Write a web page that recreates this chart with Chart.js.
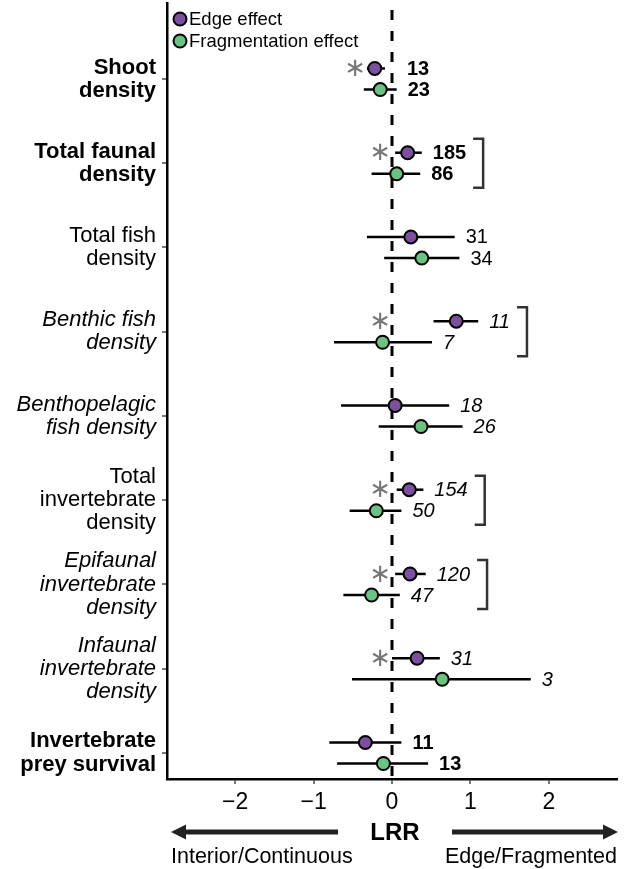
<!DOCTYPE html>
<html><head><meta charset="utf-8">
<script src="https://cdn.jsdelivr.net/npm/chart.js@4.4.0/dist/chart.umd.min.js"></script>
<style>html,body{margin:0;padding:0;background:#fff;} canvas{display:block;}</style>
</head><body>
<canvas id="c" width="628" height="869"></canvas>
<script>
// ---- data (top row first) ----
const categories = [
  ['Shoot', 'density'],
  ['Total faunal', 'density'],
  ['Total fish', 'density'],
  ['Benthic fish', 'density'],
  ['Benthopelagic', 'fish density'],
  ['Total', 'invertebrate', 'density'],
  ['Epifaunal', 'invertebrate', 'density'],
  ['Infaunal', 'invertebrate', 'density'],
  ['Invertebrate', 'prey survival']
];
const labelStyles = ['bold', 'bold', 'normal', 'italic', 'italic', 'normal', 'italic', 'italic', 'bold'];
const countStyles = ['bold', 'bold', 'normal', 'italic', 'italic', 'italic', 'italic', 'italic', 'bold'];

const edgeMean = [-0.22, 0.20, 0.24, 0.82, 0.04, 0.22, 0.23, 0.32, -0.34];
const edgeLow  = [-0.32, 0.04, -0.32, 0.53, -0.65, 0.06, 0.04, 0.00, -0.80];
const edgeHigh = [-0.09, 0.38, 0.80, 1.10, 0.73, 0.40, 0.43, 0.61, 0.12];
const edgeN    = [13, 185, 31, 11, 18, 154, 120, 31, 11];
const edgeSignificant = [true, true, false, true, false, true, true, true, false];

const fragMean = [-0.15, 0.06, 0.38, -0.12, 0.37, -0.20, -0.26, 0.64, -0.11];
const fragLow  = [-0.36, -0.26, -0.10, -0.74, -0.17, -0.54, -0.62, -0.51, -0.70];
const fragHigh = [0.06, 0.36, 0.86, 0.51, 0.90, 0.12, 0.10, 1.77, 0.46];
const fragN    = [23, 86, 34, 7, 26, 50, 47, 3, 13];

const groupDifferent = [false, true, false, true, false, true, true, false, false];

const xTicks = [-2, -1, 0, 1, 2];
const xTickLabels = ['\u22122', '\u22121', '0', '1', '2'];
const seriesNames = ['Edge effect', 'Fragmentation effect'];
const seriesColors = ['#7d4f9f', '#6cc283'];

// ---- helpers ----
const FONT = "'Liberation Sans', Arial, Helvetica, sans-serif";
const nRows = categories.length;
const yOf = i => nRows - i;
const OFF = 0.125;
const series = [
  { mean: edgeMean, low: edgeLow, high: edgeHigh, n: edgeN, off: OFF },
  { mean: fragMean, low: fragLow, high: fragHigh, n: fragN, off: -OFF }
];
function fontStr(style, size) {
  const it = style === 'italic' ? 'italic ' : '';
  const b = style === 'bold' ? 'bold ' : '';
  return it + b + size + 'px ' + FONT;
}

const forestPlugin = {
  id: 'forest',
  beforeDatasetsDraw(chart) {
    const { ctx, chartArea: a, scales: { x, y } } = chart;
    ctx.save();
    const x0 = x.getPixelForValue(0);
    ctx.strokeStyle = '#000';
    ctx.lineWidth = 3;
    ctx.setLineDash([10, 11]);
    ctx.beginPath(); ctx.moveTo(x0, a.top + 7); ctx.lineTo(x0, a.bottom); ctx.stroke();
    ctx.setLineDash([]);
    ctx.lineWidth = 2.5;
    series.forEach(s => s.low.forEach((lo, i) => {
      const py = y.getPixelForValue(yOf(i) + s.off);
      ctx.beginPath();
      ctx.moveTo(x.getPixelForValue(lo), py);
      ctx.lineTo(x.getPixelForValue(s.high[i]), py);
      ctx.stroke();
    }));
    ctx.restore();
  },
  afterDatasetsDraw(chart) {
    const { ctx, chartArea: a, scales: { x, y } } = chart;
    ctx.save();
    ctx.textBaseline = 'middle';
    // counts
    const ends = [];
    series.forEach((s, si) => s.n.forEach((n, i) => {
      const py = y.getPixelForValue(yOf(i) + s.off);
      const px = x.getPixelForValue(Math.max(s.high[i], 0.05) + 0.14);
      ctx.font = fontStr(countStyles[i], 20);
      ctx.fillStyle = '#000';
      ctx.textAlign = 'left';
      ctx.fillText(String(n), px, py + 1);
      const e = px + ctx.measureText(String(n)).width;
      ends[i] = Math.max(ends[i] || 0, e);
    }));
    // asterisks
    ctx.fillStyle = '#777';
    ctx.textAlign = 'center';
    ctx.font = "26px 'DejaVu Sans', sans-serif";
    edgeSignificant.forEach((sig, i) => {
      if (!sig) return;
      const py = y.getPixelForValue(yOf(i) + OFF);
      const px = x.getPixelForValue(Math.min(edgeLow[i], 0) - 0.15);
      ctx.fillText('\u2217', px, py + 1);
    });
    // brackets
    ctx.strokeStyle = '#333';
    ctx.lineWidth = 2.5;
    groupDifferent.forEach((g, i) => {
      if (!g) return;
      const bx = ends[i] + 17;
      const t = y.getPixelForValue(yOf(i) + 0.29);
      const b = y.getPixelForValue(yOf(i) - 0.29);
      ctx.beginPath();
      ctx.moveTo(bx - 10, t); ctx.lineTo(bx, t); ctx.lineTo(bx, b); ctx.lineTo(bx - 10, b);
      ctx.stroke();
    });
    // legend
    chart.data.datasets.forEach((ds, k) => {
      const cy = a.top + 16 + k * 22;
      const cx = a.left + 13;
      ctx.beginPath(); ctx.arc(cx, cy, 6.5, 0, Math.PI * 2);
      ctx.fillStyle = ds.backgroundColor; ctx.fill();
      ctx.lineWidth = 2; ctx.strokeStyle = '#000'; ctx.stroke();
      ctx.fillStyle = '#000';
      ctx.font = '18.5px ' + FONT;
      ctx.textAlign = 'left';
      ctx.fillText(ds.label, cx + 9, cy + 1);
    });
    ctx.restore();
  },
  afterDraw(chart) {
    const { ctx, chartArea: a, scales: { x } } = chart;
    ctx.save();
    const cx = x.getPixelForValue(0) + 3;
    const ay = 832;
    ctx.fillStyle = '#000';
    ctx.font = 'bold 24px ' + FONT;
    ctx.textAlign = 'center'; ctx.textBaseline = 'middle';
    ctx.fillText('LRR', cx, ay + 1);
    // arrows
    ctx.strokeStyle = '#222'; ctx.fillStyle = '#222'; ctx.lineWidth = 5;
    const lTip = a.left + 4, lEnd = cx - 57;
    const rTip = a.right + 1, rEnd = cx + 57;
    ctx.beginPath(); ctx.moveTo(lTip + 10, ay); ctx.lineTo(lEnd, ay); ctx.stroke();
    ctx.beginPath(); ctx.moveTo(lTip, ay); ctx.lineTo(lTip + 15, ay - 7.5); ctx.lineTo(lTip + 15, ay + 7.5); ctx.closePath(); ctx.fill();
    ctx.beginPath(); ctx.moveTo(rEnd, ay); ctx.lineTo(rTip - 10, ay); ctx.stroke();
    ctx.beginPath(); ctx.moveTo(rTip, ay); ctx.lineTo(rTip - 15, ay - 7.5); ctx.lineTo(rTip - 15, ay + 7.5); ctx.closePath(); ctx.fill();
    // captions
    ctx.fillStyle = '#000';
    ctx.font = '21.5px ' + FONT;
    ctx.textAlign = 'left';
    ctx.fillText('Interior/Continuous', lTip, 857);
    ctx.textAlign = 'right';
    ctx.fillText('Edge/Fragmented', a.right, 857);
    ctx.restore();
  }
};

new Chart(document.getElementById('c'), {
  type: 'scatter',
  data: {
    datasets: series.map((s, k) => ({
      label: seriesNames[k],
      data: s.mean.map((v, i) => ({ x: v, y: yOf(i) + s.off })),
      backgroundColor: seriesColors[k],
      borderColor: '#000',
      borderWidth: 2,
      pointRadius: 6.5,
      pointHoverRadius: 6.5
    }))
  },
  options: {
    responsive: false,
    animation: false,
    devicePixelRatio: 1,
    layout: { autoPadding: false, padding: { top: 3, right: 11, left: 0, bottom: 0 } },
    plugins: { legend: { display: false }, tooltip: { enabled: false } },
    scales: {
      x: {
        type: 'linear', min: -2.87, max: 2.87,
        afterBuildTicks: s => { s.ticks = xTicks.map(v => ({ value: v })); },
        afterFit: s => { s.height = 90; s.paddingLeft = 0; s.paddingRight = 0; },
        grid: { drawOnChartArea: false, drawTicks: true, tickLength: 5, color: '#777', lineWidth: 2 },
        border: { display: true, color: '#000', width: 2.5 },
        ticks: {
          callback: (v, idx) => xTickLabels[idx],
          font: { family: FONT, size: 23 }, color: '#000', padding: 5,
          maxRotation: 0, autoSkip: false
        }
      },
      y: {
        type: 'linear', min: 0.691, max: 9.902,
        afterBuildTicks: s => { s.ticks = categories.map((c, i) => ({ value: yOf(i) })); },
        afterFit: s => { s.width = 167; s.paddingTop = 0; s.paddingBottom = 0; },
        grid: { drawOnChartArea: false, drawTicks: true, tickLength: 5, color: '#777', lineWidth: 2 },
        border: { display: true, color: '#000', width: 2.5 },
        ticks: {
          callback: v => categories[nRows - Math.round(v)],
          font: ctx => {
            const i = ctx.tick ? nRows - Math.round(ctx.tick.value) : 0;
            const st = labelStyles[i] || 'normal';
            return { family: FONT, size: 22, lineHeight: 1.05,
              style: st === 'italic' ? 'italic' : 'normal',
              weight: st === 'bold' ? 'bold' : 'normal' };
          },
          color: '#000', padding: 6, autoSkip: false
        }
      }
    }
  },
  plugins: [forestPlugin]
});
</script>
</body></html>
